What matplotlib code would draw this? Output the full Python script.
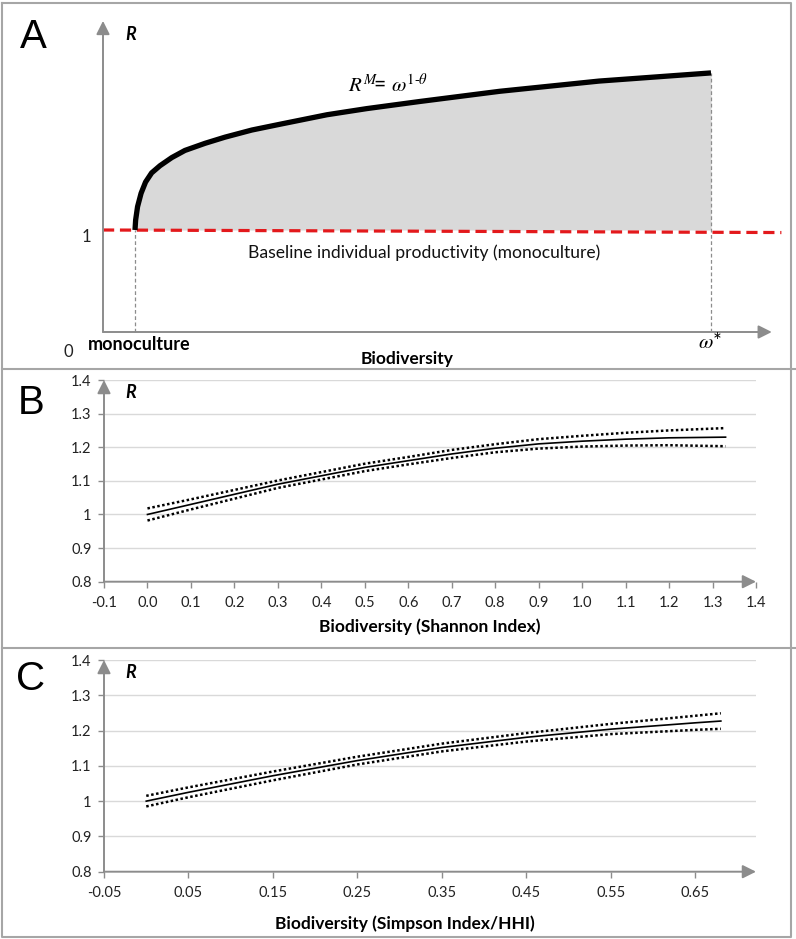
import matplotlib
matplotlib.use("Agg")
import matplotlib.pyplot as plt

plt.rcParams['font.family'] = ['Lato', 'DejaVu Sans']
plt.rcParams['mathtext.fontset'] = 'stix'

# ---- panel A: schematic (arbitrary units) ----
omega = [1.0, 1.02, 1.08, 1.19, 1.33, 1.52, 1.78, 2.15, 2.56, 3.19, 3.81, 4.65, 5.58,
         7.0, 8.24, 9.9, 12.4, 15.5, 19.0]
R_M = [1.0, 1.098, 1.229, 1.36, 1.47, 1.56, 1.63, 1.71, 1.78, 1.85, 1.91, 1.98, 2.04,
       2.13, 2.19, 2.26, 2.36, 2.46, 2.54]
base_x = [0.0, 21.2]
base_R = [1.0, 0.975]
mono_x = 1.0
omega_star = 19.0

# ---- panel B: Shannon index ----
shan_x = [0.0, 0.1, 0.2, 0.3, 0.4, 0.5, 0.6, 0.7, 0.8, 0.9, 1.0, 1.1, 1.2, 1.33]
shan_R = [1.0, 1.03, 1.06, 1.09, 1.115, 1.14, 1.16, 1.18, 1.197, 1.21, 1.218, 1.224, 1.228, 1.23]
shan_hi = [1.018, 1.045, 1.073, 1.101, 1.126, 1.151, 1.171, 1.192, 1.209, 1.224, 1.234, 1.243, 1.25, 1.257]
shan_lo = [0.982, 1.015, 1.047, 1.079, 1.104, 1.129, 1.149, 1.168, 1.185, 1.196, 1.202, 1.205, 1.206, 1.203]
shan_ticks = [-0.1, 0.0, 0.1, 0.2, 0.3, 0.4, 0.5, 0.6, 0.7, 0.8, 0.9, 1.0, 1.1, 1.2, 1.3, 1.4]

# ---- panel C: Simpson index / HHI ----
simp_x = [0.0, 0.05, 0.15, 0.25, 0.35, 0.45, 0.55, 0.65, 0.68]
simp_R = [1.0, 1.025, 1.072, 1.115, 1.152, 1.181, 1.204, 1.222, 1.227]
simp_hi = [1.015, 1.039, 1.084, 1.126, 1.163, 1.193, 1.219, 1.242, 1.249]
simp_lo = [0.985, 1.011, 1.059, 1.104, 1.141, 1.169, 1.19, 1.202, 1.205]
simp_ticks = [-0.05, 0.05, 0.15, 0.25, 0.35, 0.45, 0.55, 0.65]

R_ticks = [0.8, 0.9, 1.0, 1.1, 1.2, 1.3, 1.4]
R_labels = ['0.8', '0.9', '1', '1.1', '1.2', '1.3', '1.4']

W, H = 796, 939
GRAY = '#8c8c8c'
fig = plt.figure(figsize=(W / 100, H / 100), dpi=100)


def fx(px):
    return px / W


def fy(py):
    return 1 - py / H


def rect(l, t, r, b):
    return [fx(l), fy(b), (r - l) / W, (b - t) / H]


# frame and panel separators
frame = fig.add_axes([0, 0, 1, 1])
frame.set_xlim(0, W)
frame.set_ylim(H, 0)
frame.axis('off')
frame.plot([1.5, 790.5, 790.5, 1.5, 1.5], [3, 3, 937, 937, 3], color='#a6a6a6', lw=1.5)
frame.plot([1.5, 796], [369, 369], color='#a6a6a6', lw=1.5)
frame.plot([1.5, 796], [648, 648], color='#a6a6a6', lw=1.5)

# ---------- A ----------
axA = fig.add_axes(rect(0, 0, 796, 369))
axA.set_xlim((0 - 103) / 32, (796 - 103) / 32)
axA.set_ylim((332 - 369) / 102, 332 / 102)
axA.axis('off')
axA.fill_between(omega, 1.0, R_M, color='#d9d9d9', lw=0)
axA.plot([mono_x, mono_x], [0, 1], color=GRAY, lw=0.9, ls=(0, (3, 2)))
axA.plot([omega_star, omega_star], [0, R_M[-1]], color=GRAY, lw=0.9, ls=(0, (3, 2)))
axA.plot(base_x, base_R, color='#e3191c', lw=2.3, ls=(0, (3.5, 1.8)))
axA.plot(omega, R_M, color='black', lw=3.8, solid_capstyle='butt', solid_joinstyle='round')
axA.annotate('', xy=(20.9, 0), xytext=(0, 0),
             arrowprops=dict(arrowstyle='-|>', color=GRAY, lw=1.4, mutation_scale=20, shrinkA=0, shrinkB=0))
axA.annotate('', xy=(0, 3.05), xytext=(0, 0),
             arrowprops=dict(arrowstyle='-|>', color=GRAY, lw=1.4, mutation_scale=20, shrinkA=0, shrinkB=0))

fig.text(fx(33), fy(37), 'A', family='Liberation Sans', fontsize=29, ha='center', va='center')
fig.text(fx(131), fy(34), 'R', fontsize=13, fontweight='bold', style='italic', ha='center', va='center')
fig.text(fx(86), fy(237), '1', fontsize=12, ha='center', va='center', color='#222222')
fig.text(fx(68), fy(352), '0', fontsize=12, ha='center', va='center', color='#222222')
fig.text(fx(139), fy(345), 'monoculture', fontsize=13, fontweight='bold', ha='center', va='center')
fig.text(fx(407), fy(359), 'Biodiversity', fontsize=12.5, fontweight='bold', ha='center', va='center')
fig.text(fx(710), fy(342), r'$\omega$*', fontsize=15, ha='center', va='center')
fig.text(fx(348), fy(84), r'$R^{M}\!$= $\omega^{1\text{-}\theta}$', fontsize=15, ha='left', va='center')
fig.text(fx(424), fy(253), 'Baseline individual productivity (monoculture)', fontsize=12.6,
         ha='center', va='center', color='#111111')


def panel(rc, xticks, xlabels, xmax, xs, mid, hi, lo, letter, letter_y, r_y, xlab, xlab_x, xlab_y):
    ax = fig.add_axes(rc)
    ax.set_xlim(xticks[0], xmax)
    ax.set_ylim(0.8, 1.4)
    for s in ax.spines.values():
        s.set_visible(False)
    for v in R_ticks[1:]:
        ax.axhline(v, color='#d9d9d9', lw=1, zorder=0)
    ax.set_yticks(R_ticks)
    ax.set_yticklabels(R_labels)
    ax.set_xticks(xticks)
    ax.set_xticklabels(xlabels)
    ax.tick_params(axis='both', colors=GRAY, labelcolor='#222222', labelsize=10.5, length=4, width=1)
    ax.tick_params(axis='x', pad=6)
    ax.tick_params(axis='y', pad=5)
    x0, x1 = ax.get_xlim()
    ax.annotate('', xy=(x1, 0.8), xytext=(x0, 0.8), annotation_clip=False,
                arrowprops=dict(arrowstyle='-|>', color=GRAY, lw=1.4, mutation_scale=20, shrinkA=0, shrinkB=0))
    ax.annotate('', xy=(x0, 1.4), xytext=(x0, 0.8), annotation_clip=False,
                arrowprops=dict(arrowstyle='-|>', color=GRAY, lw=1.4, mutation_scale=20, shrinkA=0, shrinkB=0))
    ax.plot(xs, mid, color='black', lw=1.2)
    ax.plot(xs, hi, color='black', lw=1.8, ls=(0, (1, 1)))
    ax.plot(xs, lo, color='black', lw=1.8, ls=(0, (1, 1)))
    fig.text(fx(31), fy(letter_y), letter, family='Liberation Sans', fontsize=29, ha='center', va='center')
    fig.text(fx(131), fy(r_y), 'R', fontsize=13, fontweight='bold', style='italic', ha='center', va='center')
    fig.text(fx(xlab_x), fy(xlab_y), xlab, fontsize=12.5, fontweight='bold', ha='center', va='center')
    return ax


panel(rect(104, 380, 756, 581.7), shan_ticks, ['%.1f' % t for t in shan_ticks], 1.4,
      shan_x, shan_R, shan_hi, shan_lo, 'B', 403, 393, 'Biodiversity (Shannon Index)', 430, 627)
panel(rect(104, 660, 756, 871.7), simp_ticks, ['%.2f' % t for t in simp_ticks], 0.7216,
      simp_x, simp_R, simp_hi, simp_lo, 'C', 679, 672, 'Biodiversity (Simpson Index/HHI)', 405, 924)

fig.savefig('out.png', dpi=100, facecolor='white')
